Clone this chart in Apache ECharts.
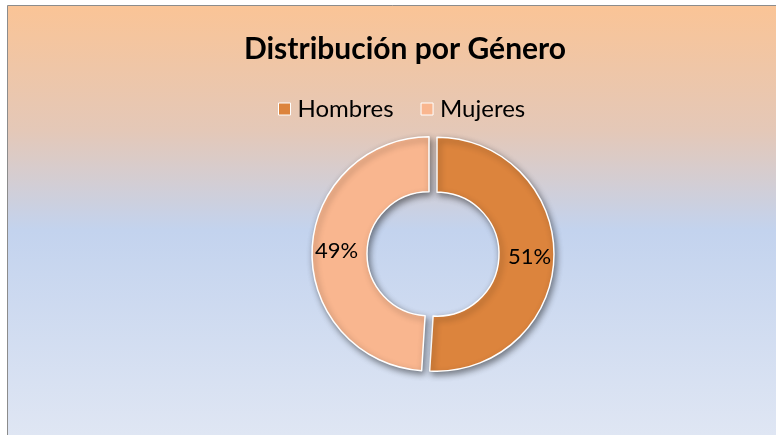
<!DOCTYPE html>
<html><head><meta charset="utf-8">
<script src="https://cdn.jsdelivr.net/npm/echarts@6/dist/echarts.min.js"></script>
<style>html,body{margin:0;padding:0;overflow:hidden;background:#fff}#c{width:776px;height:435px}</style>
</head><body><div id="c"></div>
<script>
const titleText = 'Distribución por Género';
const categories = ['Hombres', 'Mujeres'];
const values = [51, 49];
const colors = ['#dc843d', '#f9b68f'];

const chart = echarts.init(document.getElementById('c'));
const FONT = 'Lato, "Open Sans", sans-serif';
chart.setOption({
  backgroundColor: '#ffffff',
  animation: false,
  graphic: [{
    type: 'rect', z: -10, silent: true,
    shape: { x: 7.5, y: 5.5, width: 800, height: 450 },
    style: {
      fill: new echarts.graphic.LinearGradient(0, 0, 0, 1, [
        { offset: 0, color: '#fac496' },
        { offset: 0.28, color: '#e4c8b8' },
        { offset: 0.5, color: '#c3d3ee' },
        { offset: 1, color: '#e2e8f4' }
      ]),
      stroke: '#8c8c8c', lineWidth: 1
    }
  }],
  title: {
    text: titleText, left: 400, top: 29, textAlign: 'center',
    textStyle: { fontFamily: FONT, fontWeight: 'bold', fontSize: 30, color: '#000' }
  },
  legend: {
    data: categories, top: 92, left: 273,
    itemWidth: 12, itemHeight: 12, itemGap: 27,
    icon: 'rect',
    itemStyle: { borderColor: '#fff', borderWidth: 1 },
    textStyle: { fontFamily: FONT, fontSize: 24, color: '#000', padding: [0, 0, 0, 2] }
  },
  series: [{
    type: 'pie',
    center: [433, 254],
    radius: [62, 117],
    startAngle: 90,
    clockwise: true,
    selectedMode: 'multiple',
    selectedOffset: 4,
    label: {
      position: 'inside', formatter: '{d}%',
      fontFamily: FONT, fontSize: 22, color: '#000'
    },
    labelLine: { show: false },
    itemStyle: {
      borderColor: '#fff', borderWidth: 1.5,
      shadowBlur: 6, shadowColor: 'rgba(0,0,0,0.45)', shadowOffsetX: 2, shadowOffsetY: 3
    },
    emphasis: { disabled: true },
    data: categories.map((n, i) => ({ name: n, value: values[i], selected: true, itemStyle: { color: colors[i] } }))
  }]
});
</script></body></html>
